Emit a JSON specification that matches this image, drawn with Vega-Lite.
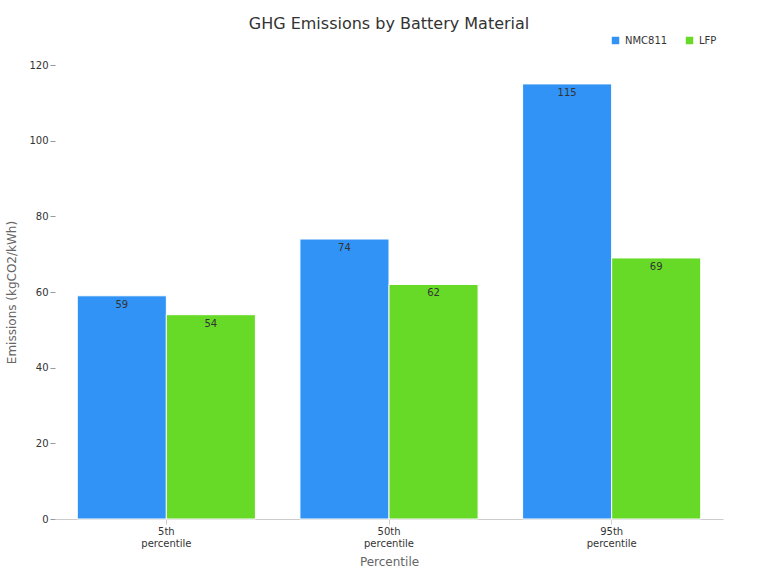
{
  "$schema": "https://vega.github.io/schema/vega-lite/v6.json",
  "width": 768,
  "height": 576,
  "autosize": {"type": "fit", "contains": "padding"},
  "padding": {"left": 5, "right": 45, "top": 16, "bottom": 9},
  "background": "white",
  "title": {
    "text": "GHG Emissions by Battery Material",
    "fontSize": 16,
    "font": "DejaVu Sans",
    "fontWeight": "normal",
    "color": "#333333",
    "offset": 28
  },
  "config": {
    "font": "DejaVu Sans",
    "view": {"stroke": null},
    "axis": {"grid": false, "labelColor": "#333333", "titleColor": "#666666", "titleFontWeight": "normal", "labelFontSize": 10, "titleFontSize": 12}
  },
  "data": {
    "values": [
      {"percentile": "5th percentile", "material": "NMC811", "emissions": 59},
      {"percentile": "5th percentile", "material": "LFP", "emissions": 54},
      {"percentile": "50th percentile", "material": "NMC811", "emissions": 74},
      {"percentile": "50th percentile", "material": "LFP", "emissions": 62},
      {"percentile": "95th percentile", "material": "NMC811", "emissions": 115},
      {"percentile": "95th percentile", "material": "LFP", "emissions": 69}
    ]
  },
  "encoding": {
    "x": {
      "field": "percentile",
      "type": "nominal",
      "sort": null,
      "title": "Percentile",
      "scale": {"paddingInner": 0.2, "paddingOuter": 0.1},
      "axis": {"labelAngle": 0, "labelExpr": "split(datum.label, ' ')", "domainColor": "#cccccc", "tickColor": "#cccccc", "titlePadding": 8}
    },
    "xOffset": {"field": "material", "type": "nominal", "sort": ["NMC811", "LFP"]},
    "y": {
      "field": "emissions",
      "type": "quantitative",
      "title": "Emissions (kgCO2/kWh)",
      "scale": {"domain": [0, 120]},
      "axis": {"tickCount": 6, "domain": false, "tickColor": "#999999", "titlePadding": 10}
    }
  },
  "layer": [
    {
      "mark": {"type": "bar", "stroke": "white", "strokeWidth": 1},
      "encoding": {
        "color": {
          "field": "material",
          "type": "nominal",
          "sort": ["NMC811", "LFP"],
          "scale": {"domain": ["NMC811", "LFP"], "range": ["#3093F5", "#66DA26"]},
          "legend": {
            "title": null,
            "orient": "none",
            "legendX": 555,
            "legendY": -30,
            "direction": "horizontal",
            "symbolType": "square",
            "symbolSize": 80,
            "labelFontSize": 10,
            "labelColor": "#333333",
            "columnPadding": 14
          }
        }
      }
    },
    {
      "mark": {"type": "text", "baseline": "top", "dy": 4, "fontSize": 10, "color": "#333333"},
      "encoding": {
        "text": {"field": "emissions", "type": "quantitative"}
      }
    }
  ]
}
